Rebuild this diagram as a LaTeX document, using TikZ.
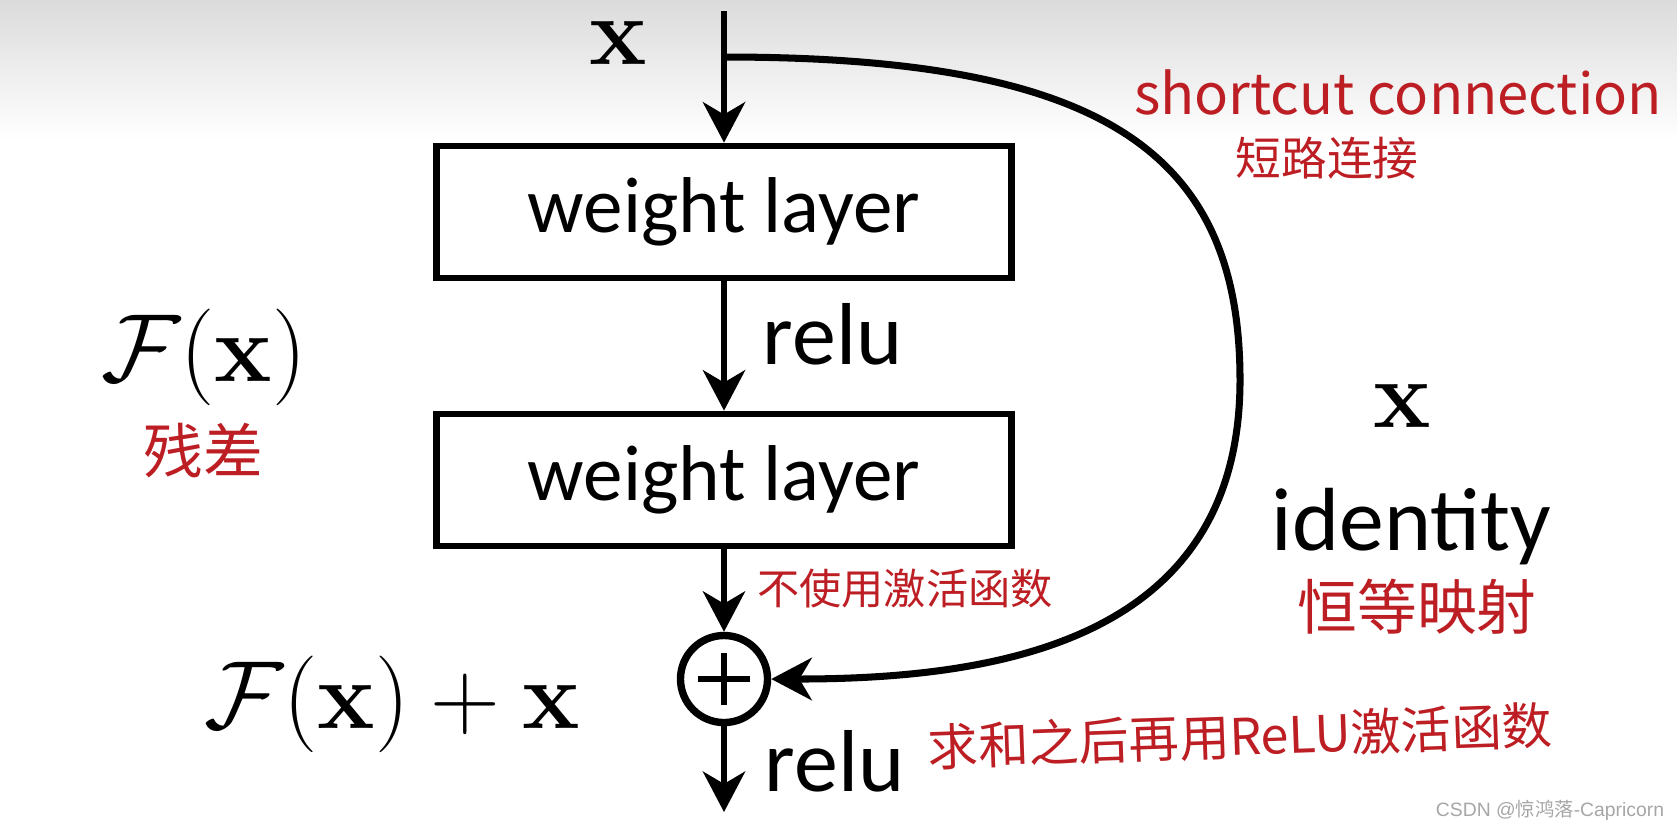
\RequirePackage{fix-cm}
\documentclass[tikz,border=0pt]{standalone}
\usepackage{amsmath, amssymb}
\usepackage[no-math]{fontspec}
\setmainfont{Carlito}
\newfontfamily\cjk{Noto Sans CJK SC}
\newfontfamily\marksans{Liberation Sans}
\usetikzlibrary{
  arrows.meta,%
  positioning,%
  calc
}
\definecolor{inkred}{RGB}{188,30,36}
\tikzset{>={Stealth[length=11.5pt,width=12pt,inset=3.5pt]}}
\tikzset{
  layerbox/.style={draw, line width=1.9pt, minimum width=5.75cm,
    minimum height=1.32cm, inner sep=0pt, font=\fontsize{22.5}{26}\selectfont},
  flow/.style={->, line width=1.7pt},
  mathlbl/.style={inner sep=0pt, font=\fontsize{27.5}{32}\selectfont},
  wordlbl/.style={inner sep=0pt, font=\fontsize{25}{30}\selectfont},
  note/.style={inner sep=0pt, text=inkred, font=\cjk\fontsize{#1}{#1}\selectfont}
}

\begin{document}
\begin{tikzpicture}[x=0.01cm, y=-0.01cm]
  \useasboundingbox (0,0) rectangle (1677,829);
  % grey fade along the top
  \shade[top color=black!14, bottom color=white] (0,0) rectangle (1677,140);

  \node[layerbox] (w1) at (724,212) {weight layer};
  \node[layerbox] (w2) at (724,480) {weight layer};
  \node[circle, draw, line width=2.1pt, minimum size=0.87cm] (sum) at (724,679) {};
  \draw[line width=1.9pt] ([xshift=-0.26cm]sum.center) -- ([xshift=0.26cm]sum.center)
    ([yshift=-0.26cm]sum.center) -- ([yshift=0.26cm]sum.center);

  \coordinate (in) at (724,11);
  \coordinate (split) at (724,57);
  \coordinate (far) at (1240,380);
  \coordinate (out) at (724,812);

  \draw[flow] (in) -- (w1);
  \draw[flow] (w1) -- (w2);
  \draw[flow] (w2) -- (sum);
  \draw[flow] (sum) -- (out);
  % shortcut
  \draw[->, line width=2pt] (split) .. controls (1100,57) and (1240,150) .. (far)
    .. controls (1240,640) and (1000,679) .. (sum.east);

  \node[mathlbl] (xin) at (618,43) {$\mathbf{x}$};
  \node[wordlbl, anchor=base west] (relu1) at (762,364) {relu};
  \node[wordlbl, anchor=base west] (relu2) at (764,791) {relu};
  \node[mathlbl] (fx) at (204,357) {$\mathcal{F}(\mathbf{x})$};
  \node[mathlbl] (fxx) at (392,704) {$\mathcal{F}(\mathbf{x}) + \mathbf{x}$};
  \node[mathlbl] (xid) at (1402,406) {$\mathbf{x}$};
  \node[wordlbl, font=\fontsize{25.5}{30}\selectfont, anchor=base west] (ident) at (1271,550) {identity};

  % red notes
  \node[note=16] (sc) at (1398,92) {shortcut connection};
  \node[note=13] (scz) at (1327,158) {短路连接};
  \node[note=17] (res) at (203,451) {残差};
  \node[note=17] (idz) at (1417,607) {恒等映射};
  \node[note=12] (noact) at (905,588) {不使用激活函数};
  \node[note=14.3, rotate=2] (sumact) at (1240,736) {求和之后再用ReLU激活函数};
  \node[inner sep=0pt, text=black!35, font=\marksans\fontsize{5.5}{6}\selectfont]
    (mark) at (1550,810) {CSDN @{\cjk 惊鸿落}-Capricorn};
\end{tikzpicture}
\end{document}
